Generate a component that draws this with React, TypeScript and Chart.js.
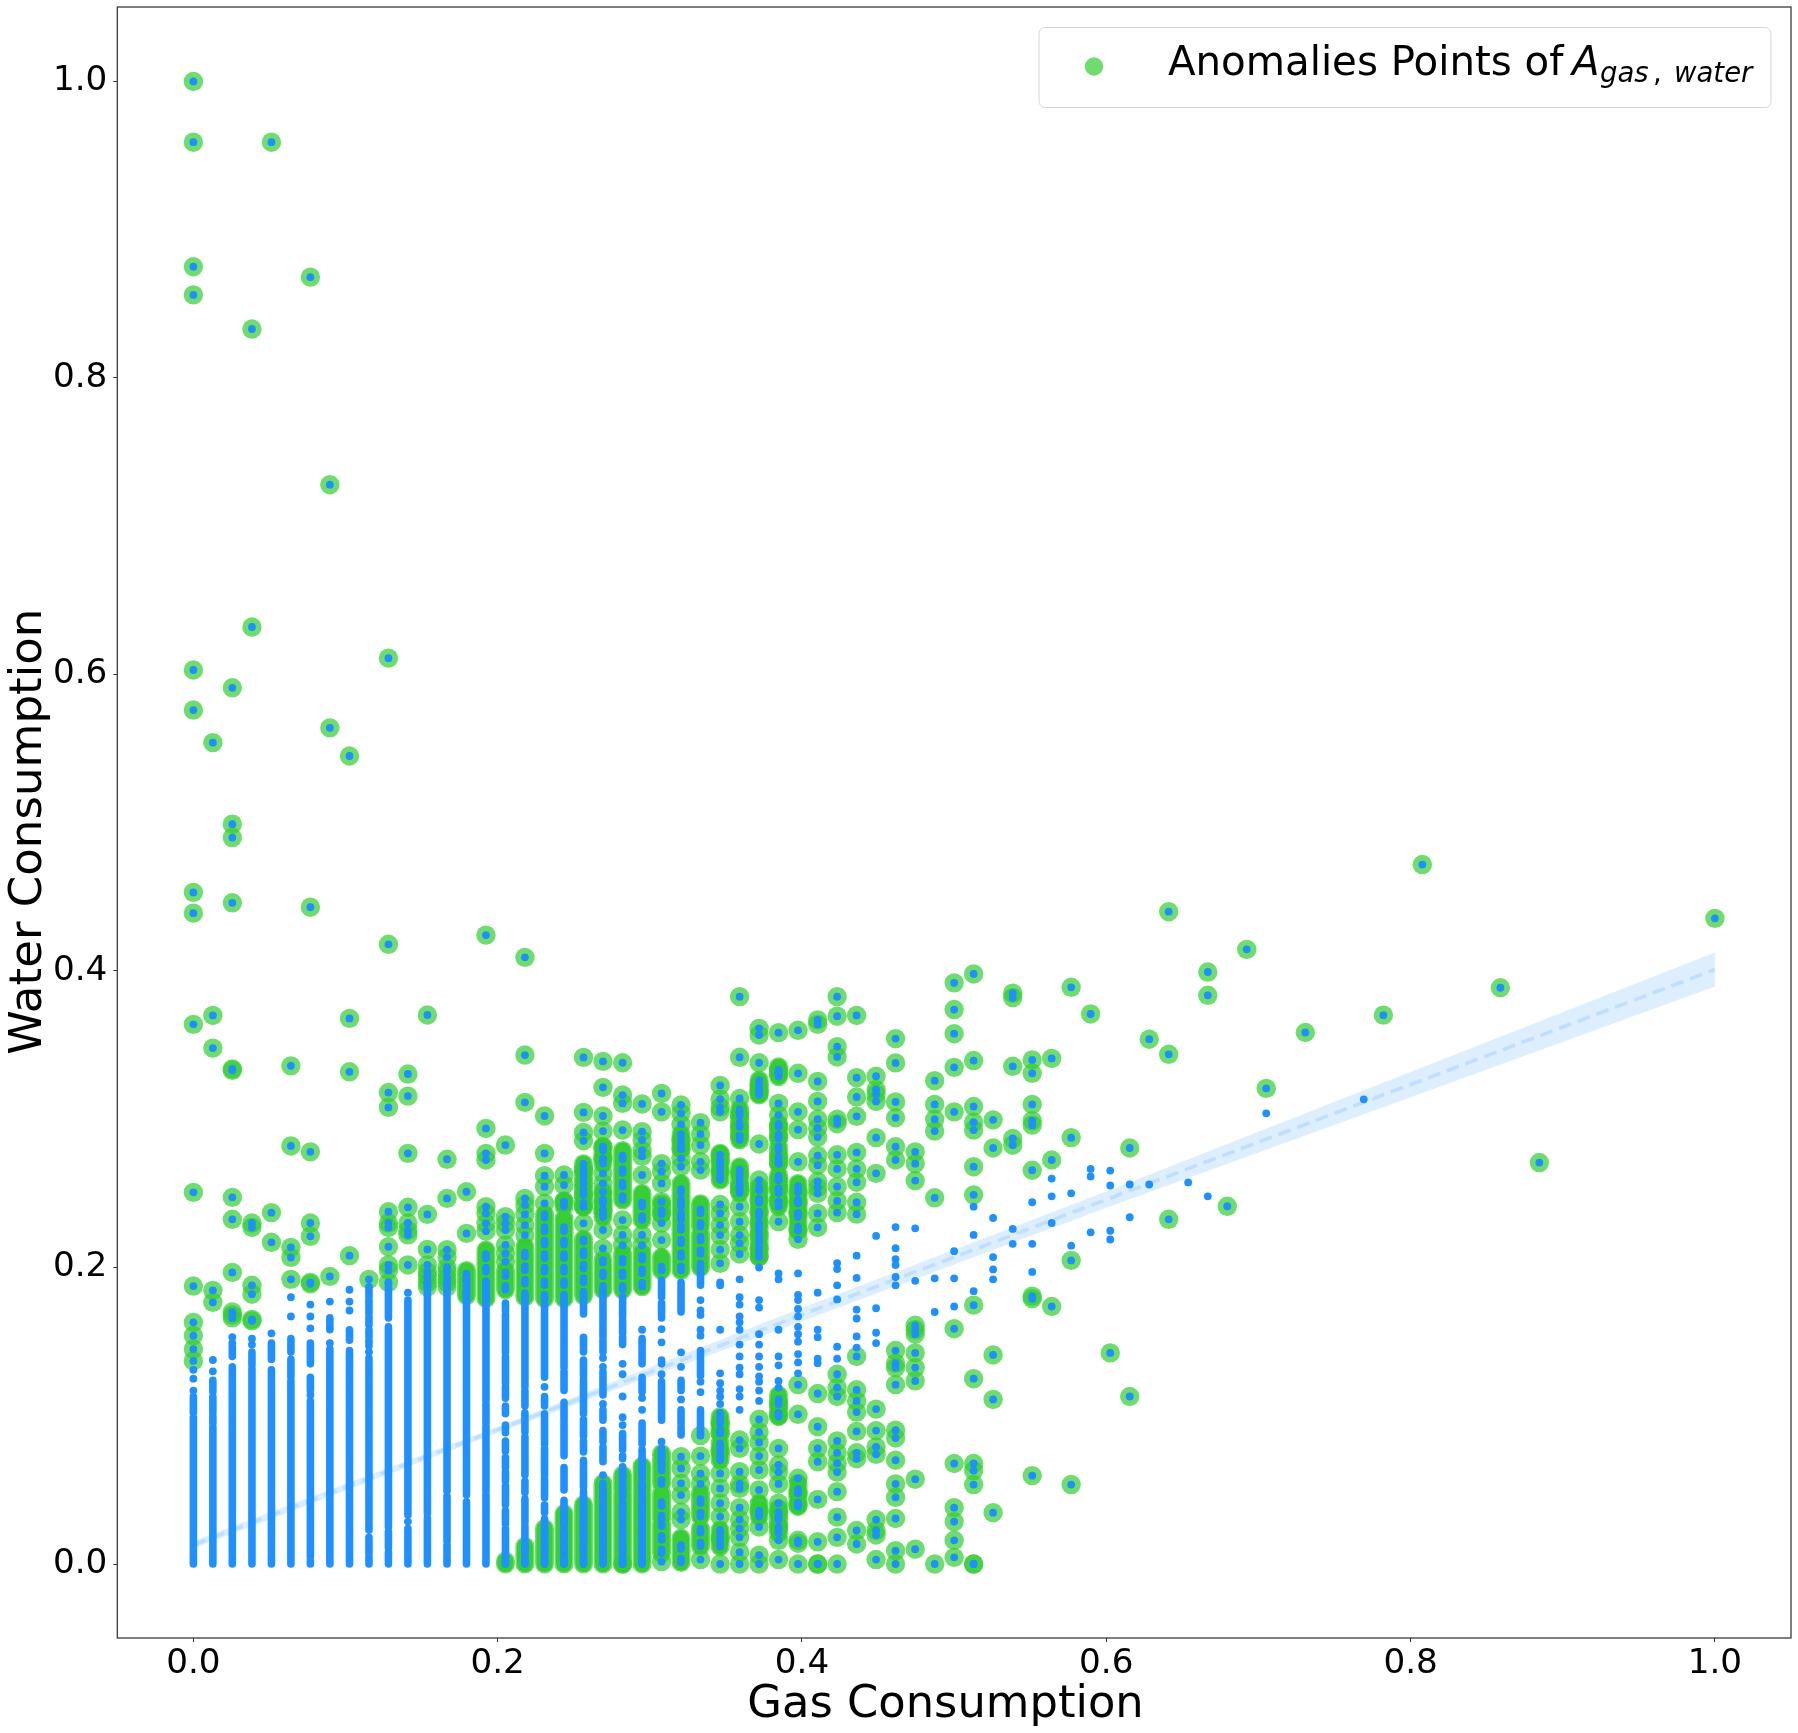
import React, { useEffect, useRef } from "react";
import { Chart, registerables } from "chart.js";

Chart.register(...registerables);

const gasLevels = [0,.0128,.0256,.0385,.0513,.0641,.0769,.0897,.1026,.1154,.1282,.141,.1538,.1667,.1795,.1923,.2051,.2179,.2308,.2436,.2564,.2692,.2821,.2949,.3077,.3205,.3333,.3462,.359,.3718,.3846,.3974,.4103,.4231,.4359,.4487,.4615,.4744,.4872,.5,.5128,.5256,.5385,.5513,.5641,.5769,.5897,.6026,.6154,.6282,.641,.6538,.6667,.6795,.6923,.7051,.7179,.7308,.7436,.7564,.7692,.7821,.7949,.8077,.8205,.8333,.8462,.859,.8718,.8846,.8974,.9103,.9231,.9359,.9487,.9615,.9744,.9872,1];

// Water values of individual anomalies, one row per gas level.
const anomalyDots: number[][] = [
[1,.959,.875,.856,.603,.576,.453,.439,.364,.2507,.1875,.163,.154,.145,.137],
[.554,.37,.348,.1846,.1765],
[.591,.499,.49,.446,.334,.333,.2473,.2325,.1967,.17,.168,.166],
[.833,.632,.23,.227,.188,.182,.165,.164],
[.959,.237,.217],
[.336,.282,.2136,.2068,.192],
[.868,.443,.278,.23,.221,.19,.189],
[.728,.564,.194],
[.545,.368,.332,.208],
[.192],
[.611,.418,.318,.308,.2376,.23,.227,.214,.2017,.198,.19],
[.3305,.3156,.277,.2406,.23,.225,.222,.2017],
[.3703,.2358,.2122,.2017,.197,.194,.19,.187],
[.273,.2466,.212,.207,.2,.197,.193,.19,.187],
[.2511,.223],
[.4242,.2938,.277,.2725,.241,.2365,.2298,.2245],
[.2826,.2343,.2298,.2253,.2152,.2095,.204],
[.4092,.3433,.3114,.2466,.2421,.2358,.2286,.2219],
[.3022,.277,.2619,.2545,.2432],
[.2624,.2556,.2444],
[.3417,.3046,.2911,.2855,.2653,.2567,.249,.241,.2298],
[.339,.3215,.3022,.292,.2815,.2736,.2635,.2567,.2511,.2444,.2388,.2253,.2129],
[.3381,.3163,.3107,.2927,.232,.222,.215,.0],
[.3103,.2916,.286,.279,.275,.2624,.222,.215],
[.3174,.305,.27,.2646,.2567,.2444,.2365,.23,.2185,.0016],
[.3096,.304,.2965,.286,.28,.2736,.268,.0724,.0645,.0544,.0465,.035,.03],
[.2977,.29,.2826,.2713,.2657,.0866,.0728,.061,.054,.003],
[.3228,.3135,.308,.305,.276,.272,.265,.2425,.2365,.2286,.2219,.212,.2028,.0949,.0881,.0758,.0611,.051,.041,.032,.0173,0],
[.3827,.3418,.314,.3026,.295,.289,.2635,.2545,.2522,.241,.2309,.2219,.2163,.2091,.0836,.078,.0623,.054,.051,.038,.03,.024,.018,.008,0],
[.3613,.3568,.3381,.3231,.3197,.3175,.2833,.259,.252,.2455,.2376,.23,.222,.213,.2073,.0976,.089,.082,.0728,.0634,.05,.036,.025,.006,0],
[.3584,.3332,.3309,.3107,.3028,.295,.288,.2747,.27,.259,.2534,.2444,.231,.108,.1,.078,.0668,.062,.054,.041,.035,.025,.016,.003],
[.36,.331,.305,.293,.2713,.251,.244,.2365,.2253,.219,.121,.101,.0578,.0477,.04,.016,.014,0],
[.367,.364,.3255,.312,.3,.294,.288,.2755,.269,.258,.254,.25,.2365,.227,.115,.0926,.078,.069,.0436,.015,0,0],
[.3827,.3695,.349,.342,.3,.297,.276,.2665,.2545,.245,.237,.128,.119,.113,.083,.075,.068,.062,.0488,.0316,.018,0],
[.37,.328,.315,.302,.2776,.2665,.2575,.244,.236,.14,.1175,.11,.1025,.0895,.075,.071,.0226,.0135],
[.329,.32,.317,.312,.2876,.2635,.1045,.09,.079,.074,.03,.0226,.0196,.003],
[.3544,.338,.3117,.301,.2815,.2725,.144,.1355,.1325,.121,.0903,.085,.07,.054,.045,.0307,.009,0],
[.278,.27,.2586,.161,.158,.155,.1424,.1325,.1235,.0572,.01],
[.326,.31,.3,.292,.247,0],
[.392,.374,.3577,.335,.305,.1587,.0678,.038,.0286,.016,.0045],
[.398,.3396,.3086,.298,.2927,.268,.249,.1746,.125,.0678,.063,.0536,0,0],
[.2996,.2806,.141,.111,.0346],
[.385,.382,.3357,.287,.2825],
[.34,.331,.31,.299,.296,.2656,.1807,.179,.0596],
[.341,.2725,.1737],
[.389,.2876,.2048,.0536],
[.371],
[.1424],
[.2806,.113],
[.354],
[.44,.3438,.2325],
[],
[.3993,.3836],
[.2413],
[.4146],
[.3208],
[],
[.3585],
[],[],[],
[.3702],
[],
[.4718],
[],[],[],
[.3887],
[],
[.2708],
[],[],[],[],[],[],[],[],
[.4355],
];

// Water ranges where anomalies overlap into a solid stack: [low, high].
const anomalyStacks: [number, number][][] = [
[],[],[],[],[],[],[],[],[],[],[],[],[],[],
[[.181,.198]],
[[.179,.2118]],
[[.185,.198],[0,.002]],
[[.18,.214],[0,.012]],
[[.179,.236],[0,.024]],
[[.241,.245],[.179,.233],[0,.034]],
[[.26,.27],[.241,.2545],[.181,.219],[0,.04]],
[[.27,.2815],[.234,.25],[.185,.205],[0,.0544]],
[[.2455,.279],[.185,.2095],[.05,.06],[0,.048]],
[[.232,.25],[.187,.2095],[.052,.066],[0,.05]],
[[.236,.243],[.198,.207],[.054,.0746],[.03,.0477],[.0072,.0274]],
[[.28,.29],[.232,.2567],[.198,.25],[.001,.0175]],
[[.2275,.243],[.2,.223],[.032,.0477],[.012,.024]],
[[.259,.277],[.088,.0994],[.07,.0814],[.0117,.023]],
[[.286,.307],[.2545,.268],[.25,.2624]],
[[.3163,.3265],[.2073,.2545],[.032,.041]],
[[.3287,.3354],[.287,.297],[.27,.2815],[.25,.2624],[.241,.2478],[.0994,.114],[.0207,.0375]],
[[.225,.2567],[.0387,.0544]],
];

// Ordinary points that stand alone, one row per gas level.
const normalDots: number[][] = [
[.131,.125,.117],
[.1376,.13],
[.153,.149],
[.152,.148],
[.1556],
[.18,.167],
[.175,.167,.159,.114],
[.177,.149],
[.185,.177,.171],
[.143],
[],
[.183,.0286],
[],[],[],[],[],[],
[.1195],
[],[],
[.139,.133,.108,.06],
[.135,.128,.113,.099,.0937,.024],
[.158,.112,.104],
[.1585,.1495,.128,.0825],
[.1428,.133,.111],
[.178,.171,.168,.158,.154,.123,.116],
[.19,.188,.158,.1286,.122,.117,.113,.108,.102],
[.192,.18,.175,.167,.163,.158,.148,.14,.1325,.128,.118,.113,.104],
[.2,.178,.173,.155,.148,.14,.133,.1265,.123,.117,.11],
[.196,.192,.158,.14,.134,.1235,.119],
[.196,.1815,.178,.172,.167,.16,.155,.15,.1416,.136,.1286],
[.183,.158,.153,.1385,.1355],
[.203,.199,.188,.1785,.1466,.1385],
[.208,.193,.1716,.1656,.1535,.146],
[.2213,.1725,.156,.149],
[.2273,.213,.2057,.2017,.1936,.188],
[.2264,.191],
[.1927,.17],
[.211,.1927,.1737],
[.241,.222,.184],
[.2334,.207,.1987,.192],
[.226,.216],
[.244,.216,.197],
[.26,.248,.23],
[.25,.2147],
[.2665,.2614,.2237],
[.2654,.2553,.2248,.2189],
[.256,.2339],
[.256],
[],
[.2574],
[.248],
[],[],
[.304],
[],[],[],[],
[.3134],
];

// Ordinary points that overlap into a solid column: [low, high].
const normalColumns: [number, number][][] = [
[[.102,.113],[0,.099]],
[[.116,.124],[.102,.113],[.095,.1],[0,.0926]],
[[.14,.147],[0,.133]],
[[.134,.143],[.095,.132],[0,.094]],
[[.138,.149],[.095,.131],[0,.094]],
[[.143,.152],[.126,.138],[.099,.1236],[0,.099]],
[[.135,.149],[.117,.126],[.005,.11],[0,.0025]],
[[.158,.166],[.12,.145],[0,.12]],
[[.151,.158],[0,.144]],
[[.18,.187],[.169,.178],[.161,.167],[.153,.158],[.147,.151],[.023,.139],[.007,.018],[0,.005]],
[[.166,.19],[.025,.16],[.011,.022],[.002,.008],[0,.0005]],
[[.033,.178],[0,.024]],
[[.034,.19],[0,.031]],
[[.171,.19],[.049,.171],[.015,.046],[0,.0128]],
[[.0465,.196],[0,.042]],
[[.11,.19],[.095,.108],[.049,.093],[0,.047]],
[[.171,.176],[.1427,.1686],[.122,.14],[.1118,.1195],[.1014,.1066],[.0885,.0937],[.076,.083],[.065,.072],[.056,.062],[.04,.053],[.027,.036],[0,.024]],
[[.1195,.1815],[.1066,.117],[.089,.102],[.06,.086],[.048,.056],[.028,.044],[0,.026]],
[[.126,.179],[.1066,.113],[.0808,.1014],[.06,.078],[.0447,.0576],[.0345,.04],[0,.0305]],
[[.1324,.179],[.117,.13],[.0963,.109],[.073,.095],[.05,.065],[0,.043]],
[[.1686,.1815],[.143,.153],[.127,.1376],[.1014,.1247],[.086,.0976],[.0756,.083],[.052,.07],[.04,.049],[0,.037]],
[[.16,.1826],[.153,.159],[.143,.151],[.12,.13],[.114,.118],[.097,.104],[.0825,.09],[.069,.079],[.047,.0544],[0,.046]],
[[.167,.18],[.1555,.1645],[.148,.153],[.077,.088],[.071,.073],[.0454,.0656],[.03,.042],[0,.0207]],
[[.135,.152],[.116,.126],[.081,.095],[.058,.077],[0,.052]],
[[.18,.1915],[.166,.176],[.135,.1375],[.097,.123],[.067,.078]],
[[.17,.19],[.117,.124],[.095,.104],[.087,.093]],
[[.188,.198],[.127,.144],[.087,.104]],
[],
[],
];

const regressionGas = [0, .2, .4, .6, .8, 1];
const regressionFit = [.013, .0906, .1682, .2458, .3234, .401];
const regressionUpper = [.0155, .0926, .1727, .2513, .3319, .4125];
const regressionLower = [.0105, .0886, .1637, .2403, .3149, .3895];

const tickValues = [0, .2, .4, .6, .8, 1];
const xTitle = "Gas Consumption";
const yTitle = "Water Consumption";
const legendWords = "Anomalies Points of ";
const legendSymbol = "A";
const legendSubscriptA = "gas";
const legendSubscriptComma = ",";
const legendSubscriptB = "water";

const FONT = '"DejaVu Sans"';
const BLUE = "#1E90FF";

const dotsToPoints = (rows: number[][]) =>
  rows.flatMap((row, k) => row.map((y) => ({ x: gasLevels[k], y })));
const stacksToPoints = (rows: [number, number][][]) =>
  rows.flatMap((row, k) =>
    row.flatMap(([lo, hi]) => [
      { x: gasLevels[k], y: lo },
      { x: gasLevels[k], y: hi },
      { x: gasLevels[k], y: NaN },
    ])
  );
const curve = (values: number[]) => regressionGas.map((x, i) => ({ x, y: values[i] }));

const framePlugin = {
  id: "frame",
  afterDraw(chart: any) {
    const { ctx, chartArea: a } = chart;
    ctx.save();
    ctx.strokeStyle = "#333333";
    ctx.lineWidth = 1.25;
    ctx.strokeRect(a.left, a.top, a.right - a.left, a.bottom - a.top);

    ctx.fillStyle = "#000";
    ctx.textBaseline = "alphabetic";
    ctx.textAlign = "center";
    ctx.font = `44.8px ${FONT}`;
    ctx.fillText(xTitle, 945.5, 1717);
    ctx.save();
    ctx.translate(40.7, 831.7);
    ctx.rotate(-Math.PI / 2);
    ctx.font = `45.1px ${FONT}`;
    ctx.fillText(yTitle, 0, 0);
    ctx.restore();

    // legend box
    const x0 = 1039, y0 = 27.5, w = 732, h = 80, r = 6;
    ctx.beginPath();
    ctx.roundRect(x0, y0, w, h, r);
    ctx.fillStyle = "rgba(255,255,255,0.8)";
    ctx.fill();
    ctx.strokeStyle = "#d6d6d6";
    ctx.lineWidth = 1;
    ctx.stroke();
    ctx.beginPath();
    ctx.arc(1094, 66.5, 9.2, 0, Math.PI * 2);
    ctx.fillStyle = "rgba(50,205,50,0.7)";
    ctx.fill();
    ctx.fillStyle = "#000";
    ctx.textAlign = "left";
    ctx.font = `40.3px ${FONT}`;
    ctx.fillText(legendWords, 1168, 75);
    ctx.font = `italic 40.3px ${FONT}`;
    ctx.fillText(legendSymbol, 1572, 75);
    ctx.font = `italic 27.5px ${FONT}`;
    ctx.fillText(legendSubscriptA, 1600, 82);
    ctx.font = `27.5px ${FONT}`;
    ctx.fillText(legendSubscriptComma, 1653, 82);
    ctx.font = `italic 27.5px ${FONT}`;
    ctx.fillText(legendSubscriptB, 1674, 82);
    ctx.restore();
  },
};

export default function App() {
  const ref = useRef<HTMLCanvasElement>(null);
  useEffect(() => {
    const anomalyPts = dotsToPoints(anomalyDots);
    const normalPts = dotsToPoints(normalDots);
    const greenStacks = stacksToPoints(anomalyStacks);
    const blueCols = stacksToPoints(normalColumns);
    const common = { showLine: false, pointBorderWidth: 0 };
    const stackStyle = {
      showLine: true,
      pointRadius: 0,
      fill: false,
      borderCapStyle: "round",
      borderJoinStyle: "round",
      spanGaps: false,
      tension: 0,
    };
    const chart = new Chart(ref.current!, {
      type: "line",
      data: {
        datasets: [
          { label: "band upper", data: curve(regressionUpper), fill: "+1", backgroundColor: "rgba(30,144,255,0.15)", borderWidth: 0, pointRadius: 0, order: 10 },
          { label: "band lower", data: curve(regressionLower), fill: false, borderWidth: 0, pointRadius: 0, order: 11 },
          { label: "fit", data: curve(regressionFit), borderColor: "rgba(30,144,255,0.15)", borderWidth: 3.7, borderDash: [13, 7], pointRadius: 0, fill: false, order: 9 },
          { label: "Anomalies", data: anomalyPts, ...common, pointRadius: 9.7, pointBackgroundColor: "rgba(50,205,50,0.7)", order: 6 },
          { label: "Anomaly stacks outer", data: greenStacks, ...stackStyle, borderColor: "rgba(50,205,50,0.7)", borderWidth: 19, order: 5 },
          { label: "Anomaly stacks inner", data: greenStacks, ...stackStyle, borderColor: "rgba(50,205,50,0.9)", borderWidth: 16, order: 4 },
          { label: "Columns", data: blueCols, ...stackStyle, borderColor: BLUE, borderWidth: 7.6, order: 3 },
          { label: "Stack centres", data: greenStacks, ...stackStyle, borderColor: BLUE, borderWidth: 7.6, borderDash: [4, 9.5], order: 2 },
          { label: "Points", data: [...normalPts, ...anomalyPts], ...common, pointRadius: 3.9, pointBackgroundColor: BLUE, order: 1 },
        ] as any,
      },
      options: {
        responsive: false,
        animation: false,
        devicePixelRatio: 1,
        layout: { autoPadding: false, padding: { top: 7, right: 7, left: 0, bottom: 0 } },
        plugins: { legend: { display: false }, tooltip: { enabled: false } },
        scales: {
          x: {
            type: "linear",
            min: -0.05,
            max: 1.05,
            afterBuildTicks: (s: any) => { s.ticks = tickValues.map((value) => ({ value })); },
            afterFit: (s: any) => { s.height = 95; s.paddingLeft = 0; s.paddingRight = 0; },
            ticks: { callback: (v: any) => Number(v).toFixed(1), color: "#000", font: { family: "DejaVu Sans", size: 34.2 }, padding: 2, maxRotation: 0 },
            grid: { display: true, drawOnChartArea: false, drawTicks: true, tickLength: 4, color: "#333", lineWidth: 1 },
            border: { display: false },
          },
          y: {
            type: "linear",
            min: -0.0499,
            max: 1.0502,
            afterBuildTicks: (s: any) => { s.ticks = tickValues.map((value) => ({ value })); },
            afterFit: (s: any) => { s.width = 117.3; s.paddingTop = 0; s.paddingBottom = 0; },
            ticks: { callback: (v: any) => Number(v).toFixed(1), color: "#000", font: { family: "DejaVu Sans", size: 34.2 }, padding: 6 },
            grid: { display: true, drawOnChartArea: false, drawTicks: true, tickLength: 4, color: "#333", lineWidth: 1 },
            border: { display: false },
          },
        },
      } as any,
      plugins: [framePlugin],
    } as any);
    return () => chart.destroy();
  }, []);
  return (
    <div style={{ position: "absolute", left: 0, top: 0, width: 1798, height: 1733, background: "#fff" }}>
      <canvas ref={ref} width={1798} height={1733} style={{ display: "block" }} />
    </div>
  );
}
